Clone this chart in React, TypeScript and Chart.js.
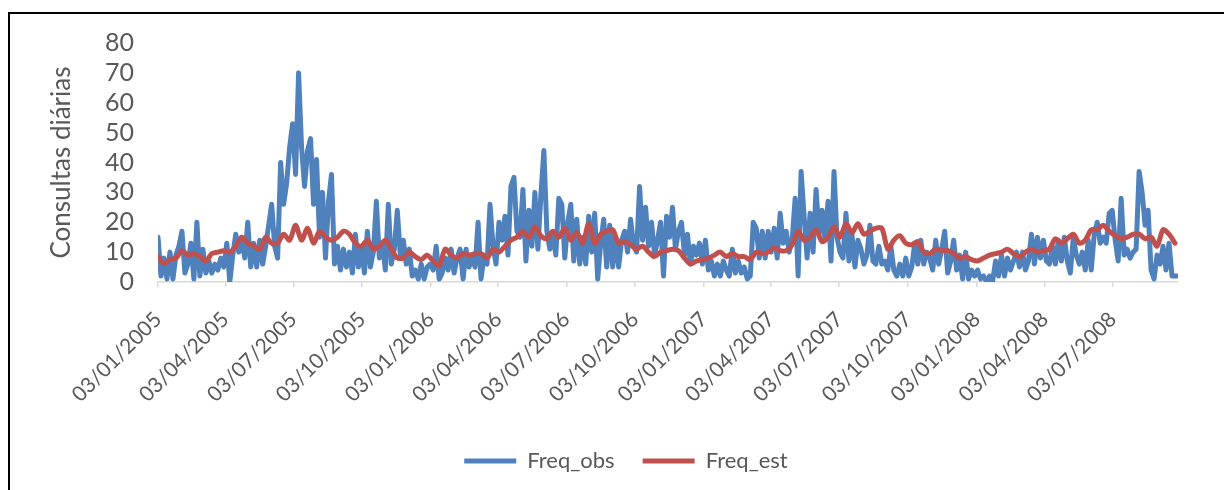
import React, { useEffect, useRef } from 'react';
import { Chart, registerables } from 'chart.js';

Chart.register(...registerables);

// x-axis tick labels (dates, dd/mm/yyyy)
const tickLabels = [
  '03/01/2005', '03/04/2005', '03/07/2005', '03/10/2005',
  '03/01/2006', '03/04/2006', '03/07/2006', '03/10/2006',
  '03/01/2007', '03/04/2007', '03/07/2007', '03/10/2007',
  '03/01/2008', '03/04/2008', '03/07/2008',
];

const startDate = '03/01/2005';
const obsStepDays = 4;
const estStepDays = 8;

// observed daily consultations (sampled every 4 days)
const freqObs2005a = [15, 2, 8, 1, 10, 1, 9, 12, 17, 3, 6, 13, 1, 20, 2, 11, 3, 7, 3, 6, 4, 8, 5, 13, 0, 9, 16, 10, 14, 8, 20, 5, 13, 5, 14, 6, 12, 19, 26, 12, 8, 40, 26];
const freqObs2005b = [33, 45, 53, 36, 70, 45, 32, 44, 48, 26, 41, 15, 30, 8, 27, 36, 6, 12, 4, 11, 5, 10, 3, 16, 5, 12, 3, 17, 5, 10, 27, 8, 13, 4, 26, 6, 11, 24, 9, 14, 6, 11, 2];
const freqObs2006a = [4, 1, 6, 1, 5, 6, 4, 12, 1, 3, 8, 4, 11, 3, 8, 11, 1, 11, 5, 8, 5, 20, 1, 9, 6, 26, 12, 6, 20, 14, 22, 9, 32, 35, 17, 15, 31, 7, 24, 12, 30, 11, 29, 44];
const freqObs2006b = [17, 11, 16, 9, 28, 26, 8, 20, 26, 7, 21, 6, 15, 6, 22, 10, 23, 1, 13, 21, 5, 19, 5, 15, 5, 14, 17, 10, 21, 12, 10, 32, 14, 25, 12, 20, 9, 14, 20, 2, 22, 15, 25];
const freqObs2007a = [11, 17, 20, 9, 16, 6, 12, 9, 13, 6, 14, 4, 7, 2, 6, 2, 7, 4, 2, 11, 3, 7, 3, 5, 1, 2, 20, 18, 8, 17, 8, 17, 10, 18, 8, 23, 13, 17, 10, 14, 28, 2, 37, 22];
const freqObs2007b = [8, 23, 10, 31, 16, 24, 14, 27, 7, 37, 15, 10, 8, 23, 7, 16, 5, 14, 11, 6, 9, 19, 7, 6, 12, 6, 7, 4, 12, 4, 2, 6, 2, 8, 2, 5, 13, 6, 14, 6, 10, 8, 4];
const freqObs2008a = [14, 6, 11, 17, 3, 7, 14, 4, 9, 1, 10, 1, 4, 2, 4, 1, 2, 0, 2, 0, 7, 2, 9, 2, 8, 4, 7, 10, 5, 10, 4, 7, 16, 6, 15, 8, 14, 7, 6, 12, 6, 14, 7, 15];
const freqObs2008b = [7, 3, 15, 9, 6, 10, 4, 14, 4, 16, 20, 13, 15, 13, 23, 24, 14, 7, 28, 9, 11, 8, 10, 11, 37, 30, 19, 24, 4, 1, 9, 6, 12, 4, 13, 2, 2, 2];

// estimated frequency (sampled every 8 days)
const freqEst2005a = [8.5, 6, 7.5, 8, 10.5, 9, 9.5, 8.5, 7, 9.5, 10, 10.5, 10, 12, 15, 13, 12, 11, 15, 13, 13, 16];
const freqEst2005b = [14, 19, 14, 18, 13, 17, 15, 14, 15, 17, 16, 13, 12, 14, 11, 12, 14, 11, 8, 8, 10];
const freqEst2006a = [8.5, 7.5, 9, 7, 5.5, 11, 9, 8, 9.5, 9, 9.5, 9.5, 8, 11, 10, 12, 14, 15, 17, 15, 18.5, 15.5];
const freqEst2006b = [14.5, 17, 15, 18, 14, 16.5, 13, 19.5, 13, 16, 17, 17.5, 13, 13.5, 12.5, 11, 12, 10, 8.5, 10, 10.5];
const freqEst2007a = [11, 10.5, 8, 6, 7, 7.5, 8, 9, 10, 8.5, 9.5, 8.5, 8.5, 7.5, 10, 9.5, 10, 11.5, 10.5, 10.5, 12.5, 17, 14];
const freqEst2007b = [15, 17.5, 13.5, 15, 18.5, 15, 19.5, 16.5, 19.5, 16, 17, 18, 18, 11, 14, 15.5, 13, 12.5, 13.5, 10, 9.5];
const freqEst2008a = [11, 10.5, 10.5, 9.5, 8, 8.5, 7.5, 7, 8, 9, 9.5, 10, 11, 9.5, 8.5, 10, 11, 10, 10.5, 11, 14.5, 13];
const freqEst2008b = [14.5, 16, 13, 14, 17.5, 17.5, 19, 17, 15.5, 14.5, 15, 16, 16, 14.5, 15, 12, 17.5, 16, 13];

const freqObs = [
  ...freqObs2005a, ...freqObs2005b, ...freqObs2006a, ...freqObs2006b,
  ...freqObs2007a, ...freqObs2007b, ...freqObs2008a, ...freqObs2008b,
];
const freqEst = [
  ...freqEst2005a, ...freqEst2005b, ...freqEst2006a, ...freqEst2006b,
  ...freqEst2007a, ...freqEst2007b, ...freqEst2008a, ...freqEst2008b,
];

const dayIndex = (s: string) => {
  const [d, m, y] = s.split('/').map(Number);
  const [d0, m0, y0] = startDate.split('/').map(Number);
  return Math.round((Date.UTC(y, m - 1, d) - Date.UTC(y0, m0 - 1, d0)) / 86400000);
};
const tickDays = tickLabels.map(dayIndex);
const lastDay = (freqObs.length - 1) * obsStepDays;

const FONT = 'Lato, "Open Sans", sans-serif';
const GREY = '#595959';

export default function App() {
  const ref = useRef<HTMLCanvasElement | null>(null);

  useEffect(() => {
    if (!ref.current) return;
    const chart = new Chart(ref.current, {
      type: 'line',
      data: {
        datasets: [
          {
            label: 'Freq_obs',
            data: freqObs.map((v, i) => ({ x: i * obsStepDays, y: v })),
            borderColor: '#4F81BD',
            backgroundColor: '#4F81BD',
            borderWidth: 5,
            pointRadius: 0,
            tension: 0,
            borderJoinStyle: 'round',
            borderCapStyle: 'round',
            order: 1,
          },
          {
            label: 'Freq_est',
            data: freqEst.map((v, i) => ({ x: i * estStepDays, y: v })),
            borderColor: '#C0504D',
            backgroundColor: '#C0504D',
            borderWidth: 5,
            pointRadius: 0,
            tension: 0.3,
            borderJoinStyle: 'round',
            borderCapStyle: 'round',
            order: 0,
          },
        ],
      },
      options: {
        animation: false,
        responsive: false,
        maintainAspectRatio: false,
        layout: { padding: { left: 74, right: 46, top: 43, bottom: 8 } },
        plugins: {
          tooltip: { enabled: false },
          legend: {
            position: 'bottom',
            labels: {
              usePointStyle: true,
              pointStyle: 'line',
              pointStyleWidth: 52,
              boxHeight: 22,
              padding: 28,
              color: GREY,
              font: { family: FONT, size: 22 },
              sort: (a: any, b: any) => a.datasetIndex - b.datasetIndex,
            },
          },
        },
        scales: {
          x: {
            type: 'linear',
            min: 0,
            max: lastDay,
            afterBuildTicks: (scale: any) => {
              scale.ticks = tickDays.map((v) => ({ value: v }));
            },
            afterFit: (scale: any) => {
              scale.height = 140;
            },
            ticks: {
              autoSkip: false,
              maxRotation: 45,
              minRotation: 45,
              padding: 20,
              color: GREY,
              font: { family: FONT, size: 21 },
              callback: (value: any) => {
                const idx = tickDays.indexOf(Number(value));
                return idx >= 0 ? tickLabels[idx] : '';
              },
            },
            grid: {
              drawOnChartArea: false,
              drawTicks: true,
              tickLength: 5,
              color: '#D9D9D9',
              lineWidth: 1.5,
            },
            border: { display: true, color: '#D9D9D9', width: 1.5 },
          },
          y: {
            min: 0,
            max: 80,
            afterFit: (scale: any) => {
              scale.width = 84;
            },
            ticks: {
              autoSkip: false,
              stepSize: 10,
              padding: 16,
              color: GREY,
              font: { family: FONT, size: 25 },
            },
            grid: { display: false },
            border: { display: false },
            title: {
              display: true,
              text: 'Consultas diárias',
              color: GREY,
              font: { family: FONT, size: 26 },
              padding: { top: -27.6, bottom: 0 },
            },
          },
        },
      },
    });
    return () => chart.destroy();
  }, []);

  return (
    <div style={{ position: 'fixed', left: 0, top: 0, width: 1224, height: 490, overflow: 'hidden', background: '#fff' }}>
      <div style={{ position: 'absolute', left: 8, top: 12, width: 1300, height: 600, border: '2px solid #000', boxSizing: 'border-box' }} />
      <canvas ref={ref} width={1224} height={490} style={{ position: 'absolute', left: 0, top: 0, width: 1224, height: 490 }} />
    </div>
  );
}
